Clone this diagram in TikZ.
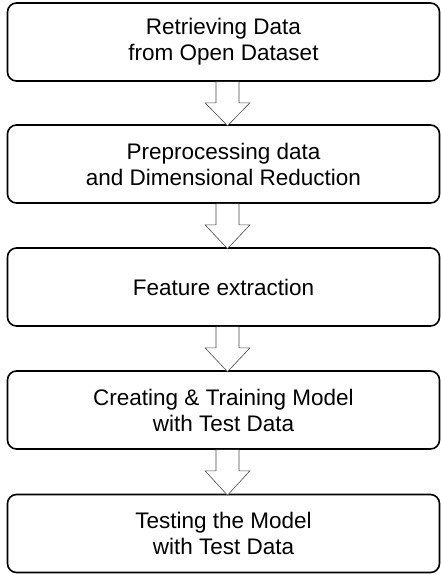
\documentclass[tikz,border=0pt]{standalone}
\usepackage{fontspec}
\setmainfont{Liberation Sans}
\usetikzlibrary{calc}
\begin{document}
\begin{tikzpicture}[x=1pt,y=1pt,
  stepbox/.style={draw=black, line width=1.6pt, rounded corners=9pt,
    minimum width=432pt, minimum height=78pt, align=center, inner sep=0pt,
    font=\fontsize{22.5}{26}\selectfont},
  blockarrow/.style={draw=black!70, line width=0.6pt, fill=white}]
\useasboundingbox (0,0) rectangle (441,-574);
\fill[white] (0,0) rectangle (441,-574);

\node[stepbox] (b1) at (223.5,-42)  {Retrieving Data\\from Open Dataset};
\node[stepbox] (b2) at (223.5,-164) {Preprocessing data\\and Dimensional Reduction};
\node[stepbox] (b3) at (223.5,-287) {Feature extraction};
\node[stepbox] (b4) at (223.5,-410) {Creating \& Training Model\\with Test Data};
\node[stepbox] (b5) at (223.5,-533.5) {Testing the Model\\with Test Data};

% hollow block arrows between consecutive steps
\foreach \a/\b in {b1/b2, b2/b3, b3/b4, b4/b5}{
  \draw[blockarrow]
    ($(\a.south)+(-7.5,0)$) -- ($(\a.south)+(-7.5,-21)$) --
    ($(\a.south)+(-18.5,-21)$) -- ($(\b.north)+(4,-1.5)$) --
    ($(\a.south)+(26.5,-21)$) -- ($(\a.south)+(15.5,-21)$) --
    ($(\a.south)+(15.5,0)$);
}
\end{tikzpicture}
\end{document}
